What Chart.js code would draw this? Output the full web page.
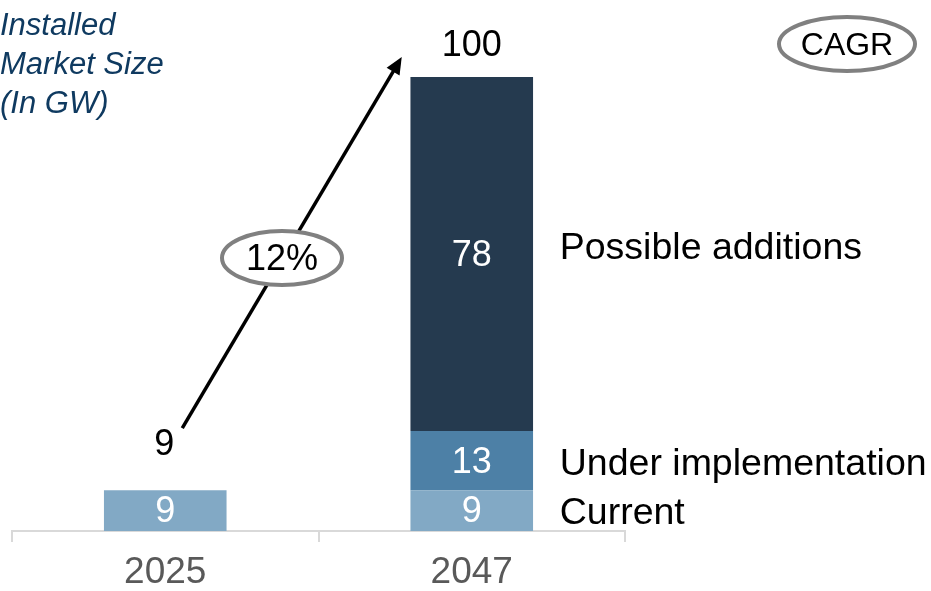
<!DOCTYPE html>
<html>
<head>
<meta charset="utf-8">
<script src="https://cdn.jsdelivr.net/npm/chart.js@4"></script>
<style>
  html, body { margin: 0; padding: 0; background: #fff; }
  #wrap { width: 931px; height: 591px; position: relative; }
</style>
</head>
<body>
<div id="wrap"><canvas id="chart" width="931" height="591"></canvas></div>
<script>
const years = ['2025', '2047'];
const current = [9, 9];
const underImpl = [null, 13];
const possible = [null, 78];
const totals = [9, 100];
const seriesNames = ['Current', 'Under implementation', 'Possible additions'];
const cagrText = '12%';
const titleLines = ['Installed', 'Market Size', '(In GW)'];

const FONT = 'Arial, "Liberation Sans", sans-serif';

// labels, arrow, ellipses
const overlay = {
    id: 'overlay',
    afterDatasetsDraw(chart) {
        const ctx = chart.ctx;
        const x = chart.scales.x;
        const y = chart.scales.y;
        ctx.save();

        // values inside the segments
        ctx.font = '36px ' + FONT;
        ctx.textAlign = 'center';
        ctx.textBaseline = 'middle';
        ctx.fillStyle = '#ffffff';
        chart.data.datasets.forEach((ds, di) => {
            const meta = chart.getDatasetMeta(di);
            meta.data.forEach((bar, i) => {
                const v = ds.data[i];
                if (v == null) return;
                ctx.fillText(String(v), bar.x, (bar.y + bar.base) / 2 + 2);
            });
        });

        // totals
        ctx.fillStyle = '#000000';
        ctx.fillText(String(totals[1]), x.getPixelForValue(1), y.getPixelForValue(totals[1]) - 31);
        ctx.fillText(String(totals[0]), x.getPixelForValue(0) - 1, y.getPixelForValue(totals[0]) - 45);

        // series names on the right
        ctx.font = '37.5px ' + FONT;
        ctx.textAlign = 'left';
        const lx = x.getPixelForValue(1) + 88;
        const mid = (a, b) => (y.getPixelForValue(a) + y.getPixelForValue(b)) / 2;
        ctx.fillText(seriesNames[0], lx, mid(0, 9) + 3);
        ctx.fillText(seriesNames[1], lx, mid(9, 22) + 4);
        ctx.fillText(seriesNames[2], lx, mid(22, 100) - 5);

        // arrow
        const x0 = x.getPixelForValue(0) + 17, y0 = y.getPixelForValue(totals[0]) - 62;
        const x1 = x.getPixelForValue(1) - 70, y1 = y.getPixelForValue(totals[1]) - 20;
        const ang = Math.atan2(y1 - y0, x1 - x0);
        ctx.strokeStyle = '#000000';
        ctx.lineWidth = 3.5;
        ctx.beginPath();
        ctx.moveTo(x0, y0);
        ctx.lineTo(x1 - 12 * Math.cos(ang), y1 - 12 * Math.sin(ang));
        ctx.stroke();
        ctx.beginPath();
        ctx.moveTo(x1, y1);
        ctx.lineTo(x1 - 17 * Math.cos(ang) + 7.5 * Math.sin(ang), y1 - 17 * Math.sin(ang) - 7.5 * Math.cos(ang));
        ctx.lineTo(x1 - 17 * Math.cos(ang) - 7.5 * Math.sin(ang), y1 - 17 * Math.sin(ang) + 7.5 * Math.cos(ang));
        ctx.closePath();
        ctx.fillStyle = '#000000';
        ctx.fill();

        // ellipses
        function bubble(cx, cy, rx, ry, text, size) {
            ctx.beginPath();
            ctx.ellipse(cx, cy, rx, ry, 0, 0, Math.PI * 2);
            ctx.fillStyle = '#ffffff';
            ctx.fill();
            ctx.lineWidth = 4;
            ctx.strokeStyle = '#808080';
            ctx.stroke();
            ctx.fillStyle = '#000000';
            ctx.font = size + 'px ' + FONT;
            ctx.textAlign = 'center';
            ctx.textBaseline = 'middle';
            ctx.fillText(text, cx, cy + 2);
        }
        bubble(282, 258, 60, 27, cagrText, 36);
        bubble(847, 44, 68, 27, 'CAGR', 32);

        // title
        ctx.font = 'italic 31px ' + FONT;
        ctx.fillStyle = '#0f3a60';
        ctx.textAlign = 'left';
        ctx.textBaseline = 'middle';
        titleLines.forEach((t, i) => ctx.fillText(t, 0, 26 + i * 39));

        ctx.restore();
    }
};

const ctx = document.getElementById('chart').getContext('2d');
new Chart(ctx, {
    type: 'bar',
    data: {
        labels: years,
        datasets: [
            { label: seriesNames[0], data: current, backgroundColor: '#82a9c5' },
            { label: seriesNames[1], data: underImpl, backgroundColor: '#4d80a6' },
            { label: seriesNames[2], data: possible, backgroundColor: '#253a4f' }
        ]
    },
    options: {
        responsive: false,
        animation: false,
        layout: { padding: { top: 77, left: 12, right: 306, bottom: 0 } },
        datasets: { bar: { barPercentage: 0.4, categoryPercentage: 1 } },
        scales: {
            x: {
                stacked: true,
                afterFit: (scale) => { scale.height = 60; },
                border: { display: true, color: '#d9d9d9', width: 2 },
                grid: { display: true, offset: true, drawOnChartArea: false, drawTicks: true, tickLength: 11, color: '#d9d9d9', lineWidth: 2 },
                ticks: { color: '#595959', font: { size: 37, family: FONT }, padding: 9 }
            },
            y: {
                stacked: true,
                display: false,
                min: 0,
                max: 100
            }
        },
        plugins: {
            legend: { display: false },
            tooltip: { enabled: false }
        }
    },
    plugins: [overlay]
});
</script>
</body>
</html>
